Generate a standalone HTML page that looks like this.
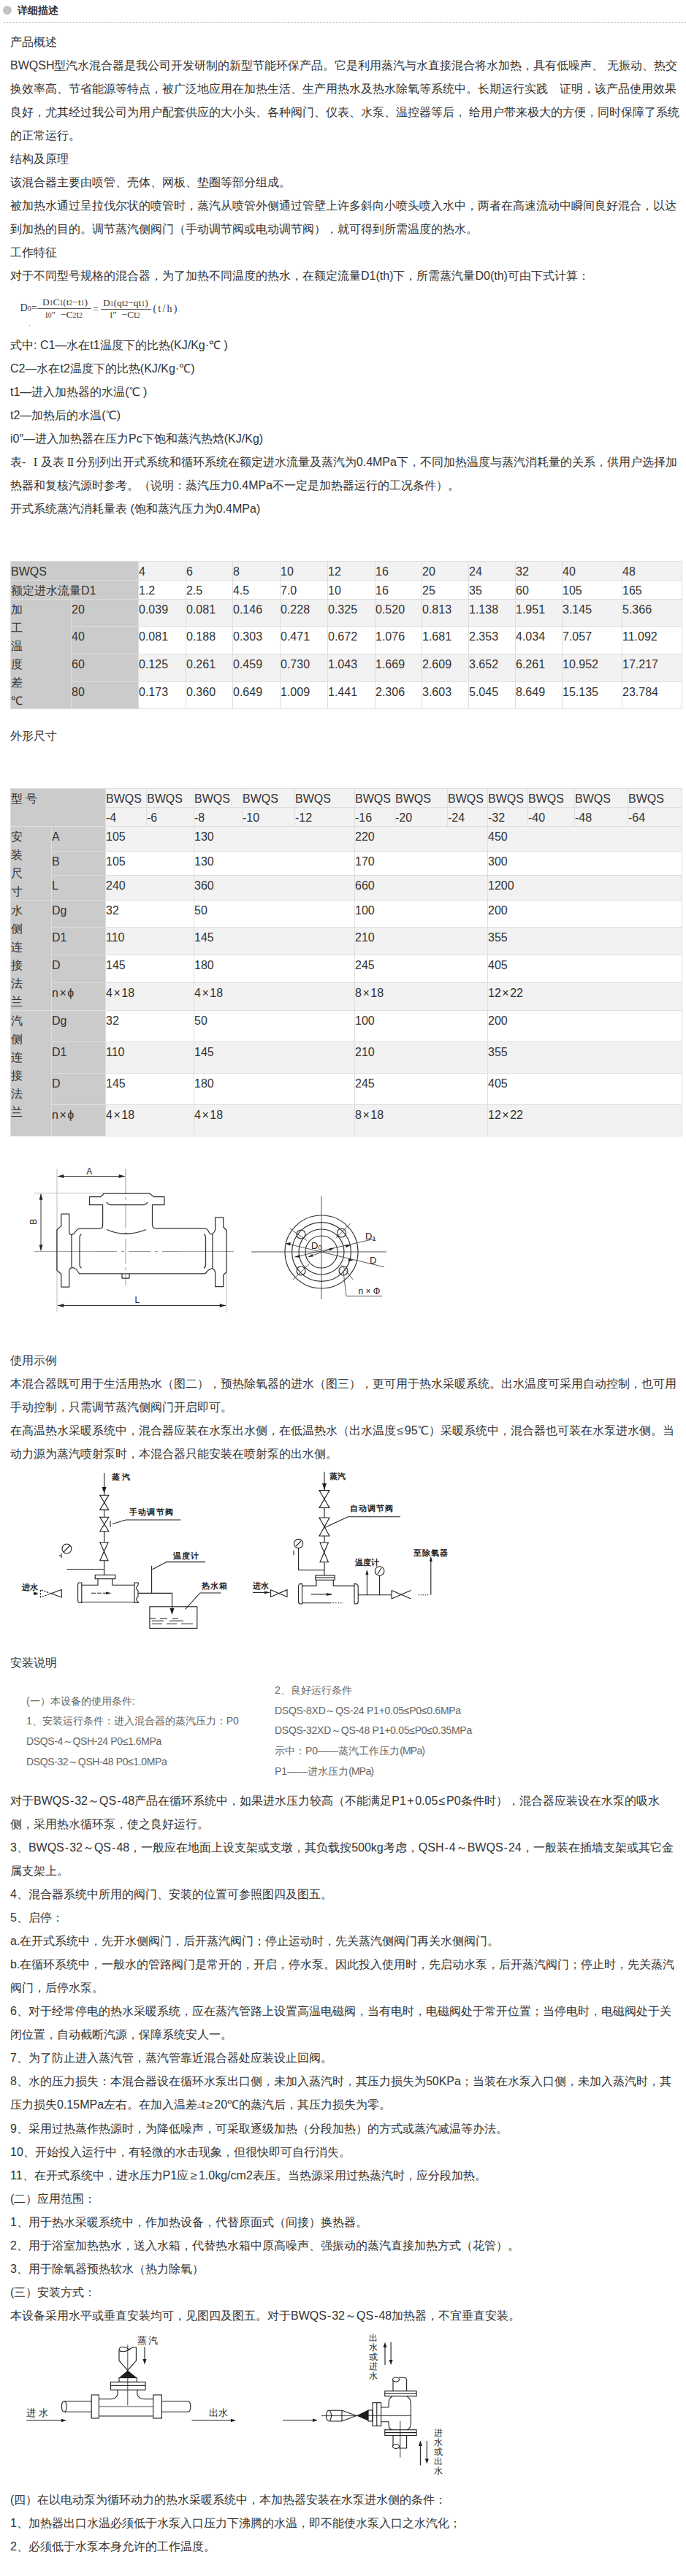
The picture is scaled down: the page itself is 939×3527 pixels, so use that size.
<!DOCTYPE html>
<html><head><meta charset="utf-8">
<style>
html,body{margin:0;padding:0;background:#fff;}
body{width:939px;height:3527px;position:relative;overflow:hidden;font-family:"Liberation Sans",sans-serif;color:#333;font-size:16px;}
.b{position:absolute;left:14px;line-height:32px;white-space:nowrap;}
.hd{position:absolute;left:0;top:0;width:939px;height:31px;}
.dot{position:absolute;left:4px;top:8px;width:12px;height:12px;border-radius:50%;background:#c2c2c2;}
.tt{position:absolute;left:24px;top:4px;font-size:14px;line-height:20px;font-weight:bold;color:#333;}
.dl{position:absolute;left:4px;top:30px;width:935px;height:1px;background:repeating-linear-gradient(90deg,#b5b5b5 0 1px,transparent 1px 2px);}
table{border-collapse:collapse;position:absolute;left:14px;table-layout:fixed;font-size:16px;line-height:25px;}
td{border:1px solid #ddd;padding:0;vertical-align:top;white-space:nowrap;overflow:hidden;}
td.h{background:#cbcbcb;}
tr.g td{background:#f2f2f2;}
tr.g td.h, tr td.h{background:#cbcbcb;}
.sm{position:absolute;font-size:14px;line-height:27.7px;color:#666;white-space:nowrap;}
svg{position:absolute;}
.ls{letter-spacing:-0.38px}.ls2{letter-spacing:-0.26px}.ls3{letter-spacing:-0.8px}
.x{margin:0 1.5px}
.rn{font-family:"Liberation Serif",serif;font-size:16.5px;letter-spacing:-1.5px}
.hy{margin:0 1px}.pl{margin:0 1.5px}
.fw{display:inline-block;width:16px;text-align:center;}
.c{position:absolute;box-sizing:border-box;border-left:1px solid #dedede;border-top:1px solid #dedede;white-space:nowrap;overflow:hidden;font-size:16px;padding-left:0;}
.tb{position:absolute;box-sizing:border-box;border-right:1px solid #dedede;border-bottom:1px solid #dedede;pointer-events:none;}
</style></head><body>
<div class="hd"><div class="dot"></div><div class="tt">详细描述</div><div class="dl"></div></div>

<div class="b" style="top:42px">产品概述<br>BWQSH型汽水混合器是我公司开发研制的新型节能环保产品。它是利用蒸汽与水直接混合将水加热，具有低噪声、 无振动、热交<br>换效率高、节省能源等特点，被广泛地应用在加热生活、生产用热水及热水除氧等系统中。长期运行实践　证明，该产品使用效果<br>良好，尤其经过我公司为用户配套供应的大小头、各种阀门、仪表、水泵、温控器等后， 给用户带来极大的方便，同时保障了系统<br>的正常运行。<br>结构及原理<br>该混合器主要由喷管、壳体、网板、垫圈等部分组成。<br>被加热水通过呈拉伐尔状的喷管时，蒸汽从喷管外侧通过管壁上许多斜向小喷头喷入水中，两者在高速流动中瞬间良好混合，以达<br>到加热的目的。调节蒸汽侧阀门（手动调节阀或电动调节阀），就可得到所需温度的热水。<br>工作特征<br>对于不同型号规格的混合器，为了加热不同温度的热水，在额定流量D1(th)下，所需蒸汽量D0(th)可由下式计算：</div>

<!--FORMULA-->
<div id="fm" style="position:absolute;left:0;top:0;font-family:'Liberation Serif',serif;color:#3a3a3a;white-space:nowrap;">
<span style="position:absolute;left:27.5px;top:414px;font-size:14px;line-height:16px">D<span style="font-size:10px">0</span>=</span>
<div style="position:absolute;left:50.5px;top:422px;width:74.5px;height:1px;background:#555"></div>
<span style="position:absolute;left:58px;top:405.5px;font-size:13.5px;line-height:16px">D<span style="font-size:9.5px">1</span>C<span style="font-size:9.5px">1</span>(t<span style="font-size:9.5px">2</span>−t<span style="font-size:9.5px">1</span>)</span>
<span style="position:absolute;left:62px;top:422.5px;font-size:13.5px;line-height:16px">i<span style="font-size:9.5px">0</span>″&nbsp; −C<span style="font-size:9.5px">2</span>t<span style="font-size:9.5px">2</span></span>
<span style="position:absolute;left:127px;top:415.5px;font-size:14px;line-height:16px">=</span>
<div style="position:absolute;left:138px;top:422.5px;width:68.5px;height:1px;background:#555"></div>
<span style="position:absolute;left:141px;top:406.5px;font-size:13.5px;line-height:16px">D<span style="font-size:9.5px">1</span>(qt<span style="font-size:9.5px">2</span>−qt<span style="font-size:9.5px">1</span>)</span>
<span style="position:absolute;left:150.5px;top:422.5px;font-size:13.5px;line-height:16px">i″&nbsp; −Ct<span style="font-size:9.5px">2</span></span>
<span style="position:absolute;left:209.5px;top:414.5px;font-size:14px;line-height:16px;letter-spacing:2.2px">(t/h)</span>
<div style="position:absolute;left:39.5px;top:445px;width:1.2px;height:1.2px;background:#888"></div>
</div>
<!--/FORMULA-->

<div class="b" style="top:457px">式中: C1—水在t1温度下的比热(KJ/Kg·℃ )<br>C2—水在t2温度下的比热(KJ/Kg·℃)<br>t1—进入加热器的水温(℃ )<br>t2—加热后的水温(℃)<br>i0″—进入加热器在压力Pc下饱和蒸汽热焓(KJ/Kg)<br>表- <span class="fw rn">I</span>及表<span class="fw rn">II</span>分别列出开式系统和循环系统在额定进水流量及蒸汽为0.4MPa下，不同加热温度与蒸汽消耗量的关系，供用户选择加<br>热器和复核汽源时参考。（说明：蒸汽压力0.4MPa不一定是加热器运行的工况条件）。<br>开式系统蒸汽消耗量表 (饱和蒸汽压力为0.4MPa)</div>

<!--TABLE1-->
<div class="c" style="left:14px;top:768px;width:175px;height:26px;background:#cbcbcb;padding-top:1px;line-height:25px">BWQS</div>
<div class="c" style="left:14px;top:794px;width:175px;height:26px;background:#cbcbcb;padding-top:1px;line-height:25px">额定进水流量D1</div>
<div class="c" style="left:189px;top:768px;width:65px;height:26px;background:#f2f2f2;padding-top:1px;line-height:25px">4</div>
<div class="c" style="left:254px;top:768px;width:64px;height:26px;background:#f2f2f2;padding-top:1px;line-height:25px">6</div>
<div class="c" style="left:318px;top:768px;width:65px;height:26px;background:#f2f2f2;padding-top:1px;line-height:25px">8</div>
<div class="c" style="left:383px;top:768px;width:65px;height:26px;background:#f2f2f2;padding-top:1px;line-height:25px">10</div>
<div class="c" style="left:448px;top:768px;width:65px;height:26px;background:#f2f2f2;padding-top:1px;line-height:25px">12</div>
<div class="c" style="left:513px;top:768px;width:64px;height:26px;background:#f2f2f2;padding-top:1px;line-height:25px">16</div>
<div class="c" style="left:577px;top:768px;width:64px;height:26px;background:#f2f2f2;padding-top:1px;line-height:25px">20</div>
<div class="c" style="left:641px;top:768px;width:64px;height:26px;background:#f2f2f2;padding-top:1px;line-height:25px">24</div>
<div class="c" style="left:705px;top:768px;width:64px;height:26px;background:#f2f2f2;padding-top:1px;line-height:25px">32</div>
<div class="c" style="left:769px;top:768px;width:82px;height:26px;background:#f2f2f2;padding-top:1px;line-height:25px">40</div>
<div class="c" style="left:851px;top:768px;width:83px;height:26px;background:#f2f2f2;padding-top:1px;line-height:25px">48</div>
<div class="c" style="left:189px;top:794px;width:65px;height:26px;background:#ffffff;padding-top:1px;line-height:25px">1.2</div>
<div class="c" style="left:254px;top:794px;width:64px;height:26px;background:#ffffff;padding-top:1px;line-height:25px">2.5</div>
<div class="c" style="left:318px;top:794px;width:65px;height:26px;background:#ffffff;padding-top:1px;line-height:25px">4.5</div>
<div class="c" style="left:383px;top:794px;width:65px;height:26px;background:#ffffff;padding-top:1px;line-height:25px">7.0</div>
<div class="c" style="left:448px;top:794px;width:65px;height:26px;background:#ffffff;padding-top:1px;line-height:25px">10</div>
<div class="c" style="left:513px;top:794px;width:64px;height:26px;background:#ffffff;padding-top:1px;line-height:25px">16</div>
<div class="c" style="left:577px;top:794px;width:64px;height:26px;background:#ffffff;padding-top:1px;line-height:25px">25</div>
<div class="c" style="left:641px;top:794px;width:64px;height:26px;background:#ffffff;padding-top:1px;line-height:25px">35</div>
<div class="c" style="left:705px;top:794px;width:64px;height:26px;background:#ffffff;padding-top:1px;line-height:25px">60</div>
<div class="c" style="left:769px;top:794px;width:82px;height:26px;background:#ffffff;padding-top:1px;line-height:25px">105</div>
<div class="c" style="left:851px;top:794px;width:83px;height:26px;background:#ffffff;padding-top:1px;line-height:25px">165</div>
<div class="c" style="left:14px;top:820px;width:83px;height:151px;background:#cbcbcb;padding-top:1px;line-height:25px">加<br>工<br>温<br>度<br>差<br>℃</div>
<div class="c" style="left:97px;top:820px;width:92px;height:37px;background:#cbcbcb;padding-top:1px;line-height:25px">20</div>
<div class="c" style="left:189px;top:820px;width:65px;height:37px;background:#f2f2f2;padding-top:1px;line-height:25px">0.039</div>
<div class="c" style="left:254px;top:820px;width:64px;height:37px;background:#f2f2f2;padding-top:1px;line-height:25px">0.081</div>
<div class="c" style="left:318px;top:820px;width:65px;height:37px;background:#f2f2f2;padding-top:1px;line-height:25px">0.146</div>
<div class="c" style="left:383px;top:820px;width:65px;height:37px;background:#f2f2f2;padding-top:1px;line-height:25px">0.228</div>
<div class="c" style="left:448px;top:820px;width:65px;height:37px;background:#f2f2f2;padding-top:1px;line-height:25px">0.325</div>
<div class="c" style="left:513px;top:820px;width:64px;height:37px;background:#f2f2f2;padding-top:1px;line-height:25px">0.520</div>
<div class="c" style="left:577px;top:820px;width:64px;height:37px;background:#f2f2f2;padding-top:1px;line-height:25px">0.813</div>
<div class="c" style="left:641px;top:820px;width:64px;height:37px;background:#f2f2f2;padding-top:1px;line-height:25px">1.138</div>
<div class="c" style="left:705px;top:820px;width:64px;height:37px;background:#f2f2f2;padding-top:1px;line-height:25px">1.951</div>
<div class="c" style="left:769px;top:820px;width:82px;height:37px;background:#f2f2f2;padding-top:1px;line-height:25px">3.145</div>
<div class="c" style="left:851px;top:820px;width:83px;height:37px;background:#f2f2f2;padding-top:1px;line-height:25px">5.366</div>
<div class="c" style="left:97px;top:857px;width:92px;height:38px;background:#cbcbcb;padding-top:1px;line-height:25px">40</div>
<div class="c" style="left:189px;top:857px;width:65px;height:38px;background:#ffffff;padding-top:1px;line-height:25px">0.081</div>
<div class="c" style="left:254px;top:857px;width:64px;height:38px;background:#ffffff;padding-top:1px;line-height:25px">0.188</div>
<div class="c" style="left:318px;top:857px;width:65px;height:38px;background:#ffffff;padding-top:1px;line-height:25px">0.303</div>
<div class="c" style="left:383px;top:857px;width:65px;height:38px;background:#ffffff;padding-top:1px;line-height:25px">0.471</div>
<div class="c" style="left:448px;top:857px;width:65px;height:38px;background:#ffffff;padding-top:1px;line-height:25px">0.672</div>
<div class="c" style="left:513px;top:857px;width:64px;height:38px;background:#ffffff;padding-top:1px;line-height:25px">1.076</div>
<div class="c" style="left:577px;top:857px;width:64px;height:38px;background:#ffffff;padding-top:1px;line-height:25px">1.681</div>
<div class="c" style="left:641px;top:857px;width:64px;height:38px;background:#ffffff;padding-top:1px;line-height:25px">2.353</div>
<div class="c" style="left:705px;top:857px;width:64px;height:38px;background:#ffffff;padding-top:1px;line-height:25px">4.034</div>
<div class="c" style="left:769px;top:857px;width:82px;height:38px;background:#ffffff;padding-top:1px;line-height:25px">7.057</div>
<div class="c" style="left:851px;top:857px;width:83px;height:38px;background:#ffffff;padding-top:1px;line-height:25px">11.092</div>
<div class="c" style="left:97px;top:895px;width:92px;height:38px;background:#cbcbcb;padding-top:1px;line-height:25px">60</div>
<div class="c" style="left:189px;top:895px;width:65px;height:38px;background:#f2f2f2;padding-top:1px;line-height:25px">0.125</div>
<div class="c" style="left:254px;top:895px;width:64px;height:38px;background:#f2f2f2;padding-top:1px;line-height:25px">0.261</div>
<div class="c" style="left:318px;top:895px;width:65px;height:38px;background:#f2f2f2;padding-top:1px;line-height:25px">0.459</div>
<div class="c" style="left:383px;top:895px;width:65px;height:38px;background:#f2f2f2;padding-top:1px;line-height:25px">0.730</div>
<div class="c" style="left:448px;top:895px;width:65px;height:38px;background:#f2f2f2;padding-top:1px;line-height:25px">1.043</div>
<div class="c" style="left:513px;top:895px;width:64px;height:38px;background:#f2f2f2;padding-top:1px;line-height:25px">1.669</div>
<div class="c" style="left:577px;top:895px;width:64px;height:38px;background:#f2f2f2;padding-top:1px;line-height:25px">2.609</div>
<div class="c" style="left:641px;top:895px;width:64px;height:38px;background:#f2f2f2;padding-top:1px;line-height:25px">3.652</div>
<div class="c" style="left:705px;top:895px;width:64px;height:38px;background:#f2f2f2;padding-top:1px;line-height:25px">6.261</div>
<div class="c" style="left:769px;top:895px;width:82px;height:38px;background:#f2f2f2;padding-top:1px;line-height:25px">10.952</div>
<div class="c" style="left:851px;top:895px;width:83px;height:38px;background:#f2f2f2;padding-top:1px;line-height:25px">17.217</div>
<div class="c" style="left:97px;top:933px;width:92px;height:38px;background:#cbcbcb;padding-top:1px;line-height:25px">80</div>
<div class="c" style="left:189px;top:933px;width:65px;height:38px;background:#ffffff;padding-top:1px;line-height:25px">0.173</div>
<div class="c" style="left:254px;top:933px;width:64px;height:38px;background:#ffffff;padding-top:1px;line-height:25px">0.360</div>
<div class="c" style="left:318px;top:933px;width:65px;height:38px;background:#ffffff;padding-top:1px;line-height:25px">0.649</div>
<div class="c" style="left:383px;top:933px;width:65px;height:38px;background:#ffffff;padding-top:1px;line-height:25px">1.009</div>
<div class="c" style="left:448px;top:933px;width:65px;height:38px;background:#ffffff;padding-top:1px;line-height:25px">1.441</div>
<div class="c" style="left:513px;top:933px;width:64px;height:38px;background:#ffffff;padding-top:1px;line-height:25px">2.306</div>
<div class="c" style="left:577px;top:933px;width:64px;height:38px;background:#ffffff;padding-top:1px;line-height:25px">3.603</div>
<div class="c" style="left:641px;top:933px;width:64px;height:38px;background:#ffffff;padding-top:1px;line-height:25px">5.045</div>
<div class="c" style="left:705px;top:933px;width:64px;height:38px;background:#ffffff;padding-top:1px;line-height:25px">8.649</div>
<div class="c" style="left:769px;top:933px;width:82px;height:38px;background:#ffffff;padding-top:1px;line-height:25px">15.135</div>
<div class="c" style="left:851px;top:933px;width:83px;height:38px;background:#ffffff;padding-top:1px;line-height:25px">23.784</div>
<div class="tb" style="left:14px;top:768px;width:920px;height:203px"></div>
<!--/TABLE1-->

<div class="b" style="top:992px">外形尺寸</div>

<!--TABLE2-->
<div class="c" style="left:14px;top:1079px;width:130px;height:52px;background:#cbcbcb;padding-top:1px;line-height:25px">型 号</div>
<div class="c" style="left:144px;top:1079px;width:56px;height:26px;background:#f2f2f2;padding-top:1px;line-height:25px">BWQS</div>
<div class="c" style="left:144px;top:1105px;width:56px;height:26px;background:#f2f2f2;padding-top:1px;line-height:25px">-4</div>
<div class="c" style="left:200px;top:1079px;width:65px;height:26px;background:#f2f2f2;padding-top:1px;line-height:25px">BWQS</div>
<div class="c" style="left:200px;top:1105px;width:65px;height:26px;background:#f2f2f2;padding-top:1px;line-height:25px">-6</div>
<div class="c" style="left:265px;top:1079px;width:66px;height:26px;background:#f2f2f2;padding-top:1px;line-height:25px">BWQS</div>
<div class="c" style="left:265px;top:1105px;width:66px;height:26px;background:#f2f2f2;padding-top:1px;line-height:25px">-8</div>
<div class="c" style="left:331px;top:1079px;width:72px;height:26px;background:#f2f2f2;padding-top:1px;line-height:25px">BWQS</div>
<div class="c" style="left:331px;top:1105px;width:72px;height:26px;background:#f2f2f2;padding-top:1px;line-height:25px">-10</div>
<div class="c" style="left:403px;top:1079px;width:82px;height:26px;background:#f2f2f2;padding-top:1px;line-height:25px">BWQS</div>
<div class="c" style="left:403px;top:1105px;width:82px;height:26px;background:#f2f2f2;padding-top:1px;line-height:25px">-12</div>
<div class="c" style="left:485px;top:1079px;width:55px;height:26px;background:#f2f2f2;padding-top:1px;line-height:25px">BWQS</div>
<div class="c" style="left:485px;top:1105px;width:55px;height:26px;background:#f2f2f2;padding-top:1px;line-height:25px">-16</div>
<div class="c" style="left:540px;top:1079px;width:72px;height:26px;background:#f2f2f2;padding-top:1px;line-height:25px">BWQS</div>
<div class="c" style="left:540px;top:1105px;width:72px;height:26px;background:#f2f2f2;padding-top:1px;line-height:25px">-20</div>
<div class="c" style="left:612px;top:1079px;width:55px;height:26px;background:#f2f2f2;padding-top:1px;line-height:25px">BWQS</div>
<div class="c" style="left:612px;top:1105px;width:55px;height:26px;background:#f2f2f2;padding-top:1px;line-height:25px">-24</div>
<div class="c" style="left:667px;top:1079px;width:55px;height:26px;background:#f2f2f2;padding-top:1px;line-height:25px">BWQS</div>
<div class="c" style="left:667px;top:1105px;width:55px;height:26px;background:#f2f2f2;padding-top:1px;line-height:25px">-32</div>
<div class="c" style="left:722px;top:1079px;width:64px;height:26px;background:#f2f2f2;padding-top:1px;line-height:25px">BWQS</div>
<div class="c" style="left:722px;top:1105px;width:64px;height:26px;background:#f2f2f2;padding-top:1px;line-height:25px">-40</div>
<div class="c" style="left:786px;top:1079px;width:73px;height:26px;background:#f2f2f2;padding-top:1px;line-height:25px">BWQS</div>
<div class="c" style="left:786px;top:1105px;width:73px;height:26px;background:#f2f2f2;padding-top:1px;line-height:25px">-48</div>
<div class="c" style="left:859px;top:1079px;width:75px;height:26px;background:#f2f2f2;padding-top:1px;line-height:25px">BWQS</div>
<div class="c" style="left:859px;top:1105px;width:75px;height:26px;background:#f2f2f2;padding-top:1px;line-height:25px">-64</div>
<div class="c" style="left:14px;top:1131px;width:56px;height:101px;background:#cbcbcb;padding-top:1px;line-height:25px">安<br>装<br>尺<br>寸</div>
<div class="c" style="left:14px;top:1232px;width:56px;height:151px;background:#cbcbcb;padding-top:1px;line-height:25px">水<br>侧<br>连<br>接<br>法<br>兰</div>
<div class="c" style="left:14px;top:1383px;width:56px;height:173px;background:#cbcbcb;padding-top:1px;line-height:25px">汽<br>侧<br>连<br>接<br>法<br>兰</div>
<div class="c" style="left:70px;top:1131px;width:74px;height:34px;background:#cbcbcb;padding-top:1px;line-height:25px">A</div>
<div class="c" style="left:144px;top:1131px;width:121px;height:34px;background:#f2f2f2;padding-top:1px;line-height:25px">105</div>
<div class="c" style="left:265px;top:1131px;width:220px;height:34px;background:#f2f2f2;padding-top:1px;line-height:25px">130</div>
<div class="c" style="left:485px;top:1131px;width:182px;height:34px;background:#f2f2f2;padding-top:1px;line-height:25px">220</div>
<div class="c" style="left:667px;top:1131px;width:267px;height:34px;background:#f2f2f2;padding-top:1px;line-height:25px">450</div>
<div class="c" style="left:70px;top:1165px;width:74px;height:33px;background:#cbcbcb;padding-top:1px;line-height:25px">B</div>
<div class="c" style="left:144px;top:1165px;width:121px;height:33px;background:#ffffff;padding-top:1px;line-height:25px">105</div>
<div class="c" style="left:265px;top:1165px;width:220px;height:33px;background:#ffffff;padding-top:1px;line-height:25px">130</div>
<div class="c" style="left:485px;top:1165px;width:182px;height:33px;background:#ffffff;padding-top:1px;line-height:25px">170</div>
<div class="c" style="left:667px;top:1165px;width:267px;height:33px;background:#ffffff;padding-top:1px;line-height:25px">300</div>
<div class="c" style="left:70px;top:1198px;width:74px;height:34px;background:#cbcbcb;padding-top:1px;line-height:25px">L</div>
<div class="c" style="left:144px;top:1198px;width:121px;height:34px;background:#f2f2f2;padding-top:1px;line-height:25px">240</div>
<div class="c" style="left:265px;top:1198px;width:220px;height:34px;background:#f2f2f2;padding-top:1px;line-height:25px">360</div>
<div class="c" style="left:485px;top:1198px;width:182px;height:34px;background:#f2f2f2;padding-top:1px;line-height:25px">660</div>
<div class="c" style="left:667px;top:1198px;width:267px;height:34px;background:#f2f2f2;padding-top:1px;line-height:25px">1200</div>
<div class="c" style="left:70px;top:1232px;width:74px;height:37px;background:#cbcbcb;padding-top:1px;line-height:25px">Dg</div>
<div class="c" style="left:144px;top:1232px;width:121px;height:37px;background:#ffffff;padding-top:1px;line-height:25px">32</div>
<div class="c" style="left:265px;top:1232px;width:220px;height:37px;background:#ffffff;padding-top:1px;line-height:25px">50</div>
<div class="c" style="left:485px;top:1232px;width:182px;height:37px;background:#ffffff;padding-top:1px;line-height:25px">100</div>
<div class="c" style="left:667px;top:1232px;width:267px;height:37px;background:#ffffff;padding-top:1px;line-height:25px">200</div>
<div class="c" style="left:70px;top:1269px;width:74px;height:38px;background:#cbcbcb;padding-top:1px;line-height:25px">D1</div>
<div class="c" style="left:144px;top:1269px;width:121px;height:38px;background:#f2f2f2;padding-top:1px;line-height:25px">110</div>
<div class="c" style="left:265px;top:1269px;width:220px;height:38px;background:#f2f2f2;padding-top:1px;line-height:25px">145</div>
<div class="c" style="left:485px;top:1269px;width:182px;height:38px;background:#f2f2f2;padding-top:1px;line-height:25px">210</div>
<div class="c" style="left:667px;top:1269px;width:267px;height:38px;background:#f2f2f2;padding-top:1px;line-height:25px">355</div>
<div class="c" style="left:70px;top:1307px;width:74px;height:38px;background:#cbcbcb;padding-top:1px;line-height:25px">D</div>
<div class="c" style="left:144px;top:1307px;width:121px;height:38px;background:#ffffff;padding-top:1px;line-height:25px">145</div>
<div class="c" style="left:265px;top:1307px;width:220px;height:38px;background:#ffffff;padding-top:1px;line-height:25px">180</div>
<div class="c" style="left:485px;top:1307px;width:182px;height:38px;background:#ffffff;padding-top:1px;line-height:25px">245</div>
<div class="c" style="left:667px;top:1307px;width:267px;height:38px;background:#ffffff;padding-top:1px;line-height:25px">405</div>
<div class="c" style="left:70px;top:1345px;width:74px;height:38px;background:#cbcbcb;padding-top:1px;line-height:25px">n<span class="x">×</span>ϕ</div>
<div class="c" style="left:144px;top:1345px;width:121px;height:38px;background:#f2f2f2;padding-top:1px;line-height:25px">4<span class="x">×</span>18</div>
<div class="c" style="left:265px;top:1345px;width:220px;height:38px;background:#f2f2f2;padding-top:1px;line-height:25px">4<span class="x">×</span>18</div>
<div class="c" style="left:485px;top:1345px;width:182px;height:38px;background:#f2f2f2;padding-top:1px;line-height:25px">8<span class="x">×</span>18</div>
<div class="c" style="left:667px;top:1345px;width:267px;height:38px;background:#f2f2f2;padding-top:1px;line-height:25px">12<span class="x">×</span>22</div>
<div class="c" style="left:70px;top:1383px;width:74px;height:43px;background:#cbcbcb;padding-top:1px;line-height:25px">Dg</div>
<div class="c" style="left:144px;top:1383px;width:121px;height:43px;background:#ffffff;padding-top:1px;line-height:25px">32</div>
<div class="c" style="left:265px;top:1383px;width:220px;height:43px;background:#ffffff;padding-top:1px;line-height:25px">50</div>
<div class="c" style="left:485px;top:1383px;width:182px;height:43px;background:#ffffff;padding-top:1px;line-height:25px">100</div>
<div class="c" style="left:667px;top:1383px;width:267px;height:43px;background:#ffffff;padding-top:1px;line-height:25px">200</div>
<div class="c" style="left:70px;top:1426px;width:74px;height:43px;background:#cbcbcb;padding-top:1px;line-height:25px">D1</div>
<div class="c" style="left:144px;top:1426px;width:121px;height:43px;background:#f2f2f2;padding-top:1px;line-height:25px">110</div>
<div class="c" style="left:265px;top:1426px;width:220px;height:43px;background:#f2f2f2;padding-top:1px;line-height:25px">145</div>
<div class="c" style="left:485px;top:1426px;width:182px;height:43px;background:#f2f2f2;padding-top:1px;line-height:25px">210</div>
<div class="c" style="left:667px;top:1426px;width:267px;height:43px;background:#f2f2f2;padding-top:1px;line-height:25px">355</div>
<div class="c" style="left:70px;top:1469px;width:74px;height:43px;background:#cbcbcb;padding-top:1px;line-height:25px">D</div>
<div class="c" style="left:144px;top:1469px;width:121px;height:43px;background:#ffffff;padding-top:1px;line-height:25px">145</div>
<div class="c" style="left:265px;top:1469px;width:220px;height:43px;background:#ffffff;padding-top:1px;line-height:25px">180</div>
<div class="c" style="left:485px;top:1469px;width:182px;height:43px;background:#ffffff;padding-top:1px;line-height:25px">245</div>
<div class="c" style="left:667px;top:1469px;width:267px;height:43px;background:#ffffff;padding-top:1px;line-height:25px">405</div>
<div class="c" style="left:70px;top:1512px;width:74px;height:44px;background:#cbcbcb;padding-top:1px;line-height:25px">n<span class="x">×</span>ϕ</div>
<div class="c" style="left:144px;top:1512px;width:121px;height:44px;background:#f2f2f2;padding-top:1px;line-height:25px">4<span class="x">×</span>18</div>
<div class="c" style="left:265px;top:1512px;width:220px;height:44px;background:#f2f2f2;padding-top:1px;line-height:25px">4<span class="x">×</span>18</div>
<div class="c" style="left:485px;top:1512px;width:182px;height:44px;background:#f2f2f2;padding-top:1px;line-height:25px">8<span class="x">×</span>18</div>
<div class="c" style="left:667px;top:1512px;width:267px;height:44px;background:#f2f2f2;padding-top:1px;line-height:25px">12<span class="x">×</span>22</div>
<div class="tb" style="left:14px;top:1079px;width:920px;height:477px"></div>
<!--/TABLE2-->

<!--FIG1-->
<svg style="left:0;top:1580px" width="939" height="230" viewBox="0 1580 939 230">
<defs>
<marker id="ar" viewBox="0 0 10 6" refX="10" refY="3" markerWidth="9" markerHeight="5" orient="auto-start-reverse" markerUnits="userSpaceOnUse"><path d="M0,0 L10,3 L0,6 z" fill="#222"/></marker>
</defs>
<g fill="none" stroke="#bdbdbd" stroke-width="1">
<line x1="78" y1="1600" x2="78" y2="1796"/>
<line x1="310" y1="1741" x2="310" y2="1797"/>
<line x1="47" y1="1633.5" x2="142" y2="1633.5"/>
<line x1="47" y1="1713.5" x2="130" y2="1713.5" stroke="#a5a5a5"/>
<line x1="247" y1="1713.5" x2="320" y2="1713.5" stroke="#a5a5a5"/>
<line x1="130" y1="1713.5" x2="247" y2="1713.5" stroke-dasharray="30 6 4 6" stroke="#999"/>
<line x1="172" y1="1600" x2="172" y2="1760" stroke-dasharray="34 5 4 5" stroke="#999"/>
</g>
<g fill="none" stroke="#333" stroke-width="1">
<line x1="79" y1="1610.5" x2="171" y2="1610.5" marker-start="url(#ar)" marker-end="url(#ar)"/>
<line x1="56" y1="1634.5" x2="56" y2="1712.5" marker-start="url(#ar)" marker-end="url(#ar)"/>
<line x1="79" y1="1787.5" x2="309" y2="1787.5" marker-start="url(#ar)" marker-end="url(#ar)"/>
</g>
<g fill="none" stroke="#333" stroke-width="1.25" stroke-linejoin="round">
<!-- outer outline -->
<path d="M140.6,1649.5 L122.5,1649.5 L122.5,1638.5 L138,1638.5 L142.5,1634 L204.5,1634 L210.5,1638.5 L225,1638.5 L225,1649.5 L208.5,1649.5 L208.5,1677 Q208.5,1681.8 213.5,1681.8 L280,1681.8 Q284,1682 286,1687 Q288,1691 291,1689 Q294,1687 294.6,1684 L294.6,1666.8 L305.7,1666.8 L305.7,1680 L310,1684.5 L310,1741.5 L305.7,1746 L305.7,1761.7 L294.6,1761.7 L294.6,1742 Q293,1736 289,1737 Q284,1739 281,1743.8 L108.5,1743.8 Q104,1736 100,1735.5 Q96,1735.5 94.7,1738.6 L94.7,1762 L83.8,1762 L83.8,1744.5 L77.9,1739.2 L77.9,1683.8 L83.8,1678.6 L83.8,1662.2 L94.7,1662.2 L94.7,1687.9 Q96,1691.5 99,1690.5 Q102,1689 104,1685.5 Q106,1682 110,1682 L136.5,1682 Q140.6,1682 140.6,1678 Z"/>
<!-- neck lines -->
<line x1="98" y1="1690.8" x2="98" y2="1735"/>
<line x1="291" y1="1689" x2="291" y2="1737"/>
<!-- inner brackets -->
<path d="M111.4,1689.6 Q109,1691 109,1694 L109,1732 Q109,1735 111.4,1736.3"/>
<path d="M279,1689.6 Q281.5,1691 281.5,1694 L281.5,1732 Q281.5,1735 279,1736.3"/>
<!-- branch inner -->
<path d="M146,1646 Q148,1649.5 151,1649.5 L197,1649.5 Q200,1649.5 202,1646"/>
<path d="M146,1683.5 Q172,1695 200,1683.5"/>
<!-- nub -->
<path d="M167,1743.8 L167,1750 L177,1750 L177,1743.8"/>
</g>
<g font-family="Liberation Sans, sans-serif" font-size="12" fill="#222">
<text x="122.3" y="1608" text-anchor="middle">A</text>
<text x="187.8" y="1784" text-anchor="middle">L</text>
<text x="50" y="1672.8" text-anchor="middle" transform="rotate(-90 50 1672.8)">B</text>
</g>
<!-- flange view -->
<g fill="none" stroke="#333" stroke-width="1.2">
<circle cx="440" cy="1714" r="50"/>
<circle cx="440" cy="1714" r="40.4"/>
<circle cx="440" cy="1714" r="31"/>
<circle cx="440" cy="1714" r="22"/>
<circle cx="412" cy="1690" r="6"/>
<circle cx="467.5" cy="1688" r="6"/>
<circle cx="412" cy="1740" r="6"/>
<circle cx="470" cy="1740" r="6"/>
</g>
<g fill="none" stroke="#444" stroke-width="0.9">
<line x1="440" y1="1638" x2="440" y2="1779"/>
<line x1="344" y1="1714" x2="529" y2="1714"/>
<line x1="396.6" y1="1682" x2="420.2" y2="1698.7"/>
<line x1="459.6" y1="1695" x2="479.7" y2="1675"/>
<line x1="401" y1="1752" x2="422.9" y2="1731"/>
<line x1="467.5" y1="1732" x2="483.2" y2="1752"/>
<line x1="392" y1="1702.6" x2="526" y2="1734.8" marker-start="url(#ar2)"/>
<line x1="403.5" y1="1721" x2="513.7" y2="1696"/>
<line x1="421.8" y1="1721" x2="457" y2="1708.8"/>
<polyline points="470,1741 474,1774.6 523,1774.6"/>
</g>
<g fill="#222">
<path d="M391,1702.4 L398,1701 L397,1705.5 Z"/>
<path d="M483.5,1725.7 L476.5,1727 L477.5,1722.5 Z"/>
<path d="M403.5,1721 L410,1718 L410.8,1722 Z"/>
<path d="M480,1705 L473.5,1708.3 L472.7,1704.3 Z"/>
<path d="M421.8,1721 L427.5,1717 L428.5,1720.5 Z"/>
<path d="M457,1708.8 L451.5,1712.8 L450.5,1709.2 Z"/>
</g>
<g font-family="Liberation Sans, sans-serif" fill="#222">
<text x="426" y="1710" font-size="13">D<tspan font-size="9" dy="1">0</tspan></text>
<text x="500" y="1697" font-size="13">D<tspan font-size="9" dy="2">1</tspan></text>
<text x="506" y="1730" font-size="13">D</text>
<text x="490.5" y="1772" font-size="12">n × Φ</text>
</g>
</svg>
<!--/FIG1-->

<div class="b" style="top:1847px">使用示例<br>本混合器既可用于生活用热水（图二），预热除氧器的进水（图三），更可用于热水采暖系统。出水温度可采用自动控制，也可用<br>手动控制，只需调节蒸汽侧阀门开启即可。<br>在高温热水采暖系统中，混合器应装在水泵出水侧，在低温热水（出水温度<span class="pl">≤</span>95℃）采暖系统中，混合器也可装在水泵进水侧。当<br>动力源为蒸汽喷射泵时，本混合器只能安装在喷射泵的出水侧。</div>

<!--FIG23-->
<svg style="left:0;top:2005px" width="939" height="235" viewBox="0 2005 939 235">
<g fill="none" stroke="#1e1e1e" stroke-width="1.1">
<!-- FIG 2 -->
<line x1="142.6" y1="2017" x2="142.6" y2="2156.4"/>
<path d="M136.7,2047.2 L148.8,2047.2 L136.7,2067.1 L148.8,2067.1 Z" fill="#fff"/>
<path d="M136.7,2077.3 L148.8,2077.3 L136.7,2096.7 L148.8,2096.7 Z" fill="#fff"/>
<path d="M136.8,2111.8 L148,2111.8 L136.8,2136.7 L148,2136.7 Z" fill="#fff"/>
<line x1="151" y1="2082" x2="151" y2="2091"/>
<polyline points="154,2086.5 172.2,2081 247.4,2081"/>
<circle cx="91.4" cy="2120.5" r="6.5"/>
<line x1="87" y1="2125" x2="96" y2="2116"/>
<path d="M84,2127 L84,2133 M81,2130 L84,2130"/>
<line x1="91.4" y1="2148.5" x2="142.6" y2="2148.5"/>
<rect x="130.2" y="2156.4" width="27.6" height="5.3"/>
<path d="M134,2161.7 L134,2170.3 L112,2170.3 M153.8,2161.7 L153.8,2170.3 L184,2170.3 M112,2193.5 L184,2193.5"/>
<path d="M108,2167 Q106.6,2168 106.6,2170 L106.6,2191.5 Q106.6,2194.5 110,2194.5 L111.8,2194.5 L111.8,2167 Z"/>
<path d="M189.2,2167 Q190,2170 187.5,2172 Q185.5,2175 189,2178 L189,2186 Q185.5,2189 187.5,2192 Q190,2194 189.2,2194.5 L184,2194.5 L184,2167 Z"/>
<line x1="125" y1="2181.3" x2="148" y2="2181.3" stroke-dasharray="6 2"/>
<path d="M70,2181.8 L55.4,2176.6 L55.4,2187 Z" stroke-dasharray="2.5 1.5"/><path d="M70,2181.8 L84.3,2176.6 L84.3,2187 Z"/>
<line x1="46" y1="2181.9" x2="52" y2="2181.9"/>
<polyline points="189.2,2181.4 235.5,2181.4 235.5,2206"/>
<line x1="207.6" y1="2181.4" x2="207.6" y2="2143.7"/>
<polyline points="208.6,2148.8 228,2138.6 281,2138.6"/>
<rect x="204.9" y="2199.8" width="64.9" height="29.6"/>
<path d="M205,2216.1 L213,2216.1 M219,2216.1 L229,2216.1 M236,2216.1 L244,2216.1 M208,2219.2 L224,2219.2 M232,2219.2 L251,2219.2 M208,2223.3 L222,2223.3 M228,2223.3 L242,2223.3 M248,2223.3 L264,2223.3" stroke-width="1"/>
<polyline points="253.5,2203.5 273.9,2181 302.4,2181"/>
<!-- FIG 3 -->
<line x1="444" y1="2015" x2="444" y2="2157"/>
<path d="M437,2040.6 L451,2040.6 L437,2064.4 L451,2064.4 Z" fill="#fff"/>
<path d="M437,2078 L451,2078 L437,2103 L451,2103 Z" fill="#fff"/>
<path d="M438,2112 L449.4,2112 L438,2138.8 L449.4,2138.8 Z" fill="#fff"/>
<polyline points="444,2091.7 476.3,2076.8 548,2076.8"/>
<circle cx="408.6" cy="2113.5" r="6.1"/>
<line x1="405" y1="2117" x2="412" y2="2110"/>
<line x1="402" y1="2123" x2="402" y2="2129"/>
<polyline points="408.6,2119.6 408.6,2149.8 444,2149.8"/>
<rect x="431.8" y="2157" width="26.6" height="6.3"/>
<line x1="431.8" y1="2160" x2="458.4" y2="2160"/>
<path d="M433,2163.3 L433,2171.4 L413.5,2171.4 M456.3,2163.3 L456.3,2171.4 L485,2171.4 M413.5,2194.7 L452,2194.7"/>
<path d="M452,2194.7 L470,2194.7" stroke-dasharray="1.5 2"/>
<path d="M410,2168.6 Q408.6,2170 408.6,2172 L408.6,2193 Q408.6,2196 411,2196 L413.5,2196 L413.5,2168.6 Z"/>
<path d="M487,2168.6 Q490.2,2170 490.2,2172 L490.2,2193 Q490.2,2196 487.5,2196 L485,2196 L485,2168.6 Z"/>
<line x1="425.7" y1="2182.9" x2="454" y2="2182.9"/>
<line x1="346" y1="2180.4" x2="369" y2="2180.4"/>
<path d="M370.6,2176.7 L393,2186.5 L393,2176.7 L370.6,2186.5 Z"/>
<line x1="490.2" y1="2183.7" x2="536" y2="2183.7"/>
<line x1="502.4" y1="2151" x2="502.4" y2="2183.7"/>
<circle cx="519.6" cy="2151" r="6.3"/>
<line x1="517" y1="2155" x2="522" y2="2147"/>
<line x1="519.6" y1="2157.3" x2="519.6" y2="2183.7"/>
<path d="M536,2177.6 L562.4,2189 M536,2189 L562.4,2177.6 M536,2177.6 L536,2189"/>
<line x1="572.7" y1="2183.7" x2="587" y2="2183.7" stroke-dasharray="1.5 1.5"/>
<line x1="589.8" y1="2183.7" x2="589.8" y2="2134"/>
</g>
<g fill="#1e1e1e">
<path d="M139.6,2036 L145.6,2036 L142.6,2045 Z"/>
<path d="M441,2031 L447,2031 L444,2040 Z"/>
<path d="M232.5,2202 L238.5,2202 L235.5,2211 Z"/>
<path d="M145,2179.5 L152.5,2181.3 L145,2183.1 Z"/>
<path d="M447,2180.9 L455,2182.9 L447,2184.9 Z"/>
<path d="M362,2178.5 L369.5,2180.4 L362,2182.3 Z"/>
<path d="M500.4,2156 L504.4,2156 L502.4,2149 Z"/>
<path d="M587.8,2138 L591.8,2138 L589.8,2130.6 Z"/>
<path d="M46,2180.2 L50,2180.2 L50,2183.6 L46,2183.6 Z"/>
</g>
<g font-family="Liberation Sans, sans-serif" font-weight="bold" font-size="11" fill="#1e1e1e">
<text x="152.5" y="2025.5" letter-spacing="3">蒸汽</text>
<text x="177" y="2074" letter-spacing="1.2">手动调节阀</text>
<text x="237" y="2133.5" letter-spacing="1">温度计</text>
<text x="275.5" y="2175" letter-spacing="1">热水箱</text>
<text x="29.5" y="2176.5">进水</text>
<text x="451" y="2025" letter-spacing="0">蒸汽</text>
<text x="478.5" y="2069" letter-spacing="1">自动调节阀</text>
<text x="486" y="2142.5" letter-spacing="0">温度计</text>
<text x="566" y="2129.5" letter-spacing="1">至除氧器</text>
<text x="346" y="2174.5">进水</text>
</g>
</svg>
<!--/FIG23-->

<div class="b" style="top:2261px">安装说明</div>

<div class="sm" style="left:36px;top:2315.5px">(一）本设备的使用条件:<br>1、安装运行条件：进入混合器的蒸汽压力：P0<br><span class="ls">DSQS-4～QSH-24 P0≤1.6MPa</span><br><span class="ls">DSQS-32～QSH-48 P0≤1.0MPa</span></div>
<div class="sm" style="left:376px;top:2301px">2、良好运行条件<br><span class="ls2">DSQS-8XD～QS-24 P1+0.05≤P0≤0.6MPa</span><br><span class="ls2">DSQS-32XD～QS-48 P1+0.05≤P0≤0.35MPa</span><br>示中：P0——蒸汽工作压力<span class="ls3">(MPa)</span><br>P1——进水压力<span class="ls3">(MPa)</span></div>

<div class="b" style="top:2450px">对于BWQS<span class="hy">-</span>32～QS<span class="hy">-</span>48产品在循环系统中，如果进水压力较高（不能满足P1<span class="pl">+</span>0.05<span class="pl">≤</span>P0条件时），混合器应装设在水泵的吸水<br>侧，采用热水循环泵，使之良好运行。<br>3、BWQS<span class="hy">-</span>32～QS<span class="hy">-</span>48，一般应在地面上设支架或支墩，其负载按500kg考虑，QSH<span class="hy">-</span>4～BWQS<span class="hy">-</span>24，一般装在插墙支架或其它金<br>属支架上。<br>4、混合器系统中所用的阀门、安装的位置可参照图四及图五。<br>5、启停：<br>a.在开式系统中，先开水侧阀门，后开蒸汽阀门；停止运动时，先关蒸汽侧阀门再关水侧阀门。<br>b.在循环系统中，一般水的管路阀门是常开的，开启，停水泵。因此投入使用时，先启动水泵，后开蒸汽阀门；停止时，先关蒸汽<br>阀门，后停水泵。<br>6、对于经常停电的热水采暖系统，应在蒸汽管路上设置高温电磁阀，当有电时，电磁阀处于常开位置；当停电时，电磁阀处于关<br>闭位置，自动截断汽源，保障系统安人一。<br>7、为了防止进入蒸汽管，蒸汽管靠近混合器处应装设止回阀。<br>8、水的压力损失：本混合器设在循环水泵出口侧，未加入蒸汽时，其压力损失为50KPa；当装在水泵入口侧，未加入蒸汽时，其<br>压力损失0.15MPa左右。在加入温差<span style="font-size:8px;vertical-align:2px">△</span>t<span style="margin:0 2px">≥</span>20℃的蒸汽后，其压力损失为零。<br>9、采用过热蒸作热源时，为降低噪声，可采取逐级加热（分段加热）的方式或蒸汽减温等办法。<br>10、开始投入运行中，有轻微的水击现象，但很快即可自行消失。<br>11、在开式系统中，进水压力P1应<span class="pl" style="margin:0 2.5px">≥</span>1.0kg/cm2表压。当热源采用过热蒸汽时，应分段加热。<br>(二）应用范围：<br>1、用于热水采暖系统中，作加热设备，代替原面式（间接）换热器。<br>2、用于浴室加热热水，送入水箱，代替热水箱中原高噪声、强振动的蒸汽直接加热方式（花管）。<br>3、用于除氧器预热软水（热力除氧）<br>(三）安装方式：<br>本设备采用水平或垂直安装均可，见图四及图五。对于BWQS<span class="hy">-</span>32～QS<span class="hy">-</span>48加热器，不宜垂直安装。</div>

<!--FIG45-->
<svg style="left:0;top:3185px" width="939" height="222" viewBox="0 3185 939 222">
<g fill="none" stroke="#1e1e1e" stroke-width="1.1">
<!-- FIG 4 -->
<line x1="198" y1="3213.3" x2="198" y2="3232"/>
<path d="M163,3218 L163,3232.3 L174.8,3245.4 L186.4,3232.3 L186.4,3218"/>
<path d="M163,3218 Q163,3213 168,3213.5 Q174,3214 177,3217 Q181,3213 186.4,3214 L186.4,3218"/>
<path d="M163,3218 Q168,3222 177,3217"/>
<rect x="163" y="3255.6" width="24.3" height="5.8"/>
<rect x="151.4" y="3261.4" width="47.6" height="10.8"/>
<line x1="151.4" y1="3266.4" x2="199" y2="3266.4"/>
<path d="M161,3272.2 L161,3279 Q158,3284.8 152,3284.8 L135.4,3284.8 M187.9,3272.2 L187.9,3279 Q191,3284.8 197,3284.8 L209.7,3284.8 M135.4,3308 L209.7,3308"/>
<rect x="125.2" y="3279" width="10.2" height="32"/>
<rect x="209.7" y="3279" width="11.7" height="32"/>
<path d="M125.2,3287.7 L88,3287.7 Q84.4,3287.7 84.4,3295 Q84.4,3302.2 88,3302.2 L125.2,3302.2"/>
<path d="M88,3287.7 Q91,3287.7 91,3295 Q91,3302.2 88,3302.2"/>
<path d="M221.4,3287.7 L257,3287.7 Q260.8,3287.7 260.8,3295 Q260.8,3302.2 257,3302.2 L221.4,3302.2"/>
<line x1="135.4" y1="3295" x2="209.7" y2="3295" stroke-width="0.8"/>
<line x1="174.8" y1="3210.4" x2="174.8" y2="3293.5" stroke-width="0.8"/>
<line x1="36.3" y1="3314" x2="86" y2="3314"/>
<line x1="262.5" y1="3314" x2="318" y2="3314"/>
<!-- FIG 5 -->
<line x1="527" y1="3212" x2="527" y2="3238"/>
<line x1="535.1" y1="3206.8" x2="535.1" y2="3232"/>
<path d="M538,3273.8 L538,3259 M556.6,3273.8 L556.6,3259 Q556.6,3255.2 552,3255.2 L546,3255.2"/>
<ellipse cx="542" cy="3258" rx="4.5" ry="3"/>
<rect x="526.8" y="3273.8" width="43.3" height="7"/>
<line x1="526.8" y1="3277.3" x2="570.1" y2="3277.3"/>
<path d="M537,3281 Q532.1,3284 532.1,3290 L532.1,3296 M532.1,3315.8 L532.1,3320 Q532.1,3326 537,3326.8 M557,3281 Q562.4,3284 562.4,3292 L562.4,3318 Q562.4,3325 557,3326.8"/>
<rect x="510" y="3289.7" width="11.6" height="31.9"/>
<line x1="515.8" y1="3289.7" x2="515.8" y2="3321.6"/>
<path d="M521.6,3296 L532.1,3296 M521.6,3315.8 L532.1,3315.8"/>
<rect x="526.8" y="3326.8" width="43.3" height="7.7"/>
<line x1="526.8" y1="3330.6" x2="570.1" y2="3330.6"/>
<path d="M538,3334.5 L538,3349 M556.6,3334.5 L556.6,3352 L546,3352"/>
<ellipse cx="542" cy="3349.5" rx="4.5" ry="3"/>
<path d="M451,3300.2 L468,3300.2 L487.8,3307.6 L468,3315 L451,3315"/>
<ellipse cx="450" cy="3307.6" rx="3.5" ry="7.4"/>
<line x1="468" y1="3300.2" x2="468" y2="3315"/>
<rect x="504" y="3300" width="6" height="15"/>
<line x1="440" y1="3307.6" x2="562" y2="3307.6" stroke-width="0.8"/>
<line x1="547.8" y1="3314.6" x2="547.8" y2="3364.8" stroke-width="0.9"/>
<line x1="387" y1="3313.7" x2="430" y2="3313.7"/>
<line x1="575.4" y1="3347" x2="575.4" y2="3375.4"/>
<line x1="584.3" y1="3342" x2="584.3" y2="3368"/>
</g>
<g fill="#1e1e1e">
<path d="M195.5,3230 L200.5,3230 L198,3237.5 Z"/>
<path d="M174.8,3245.4 L187.3,3255.6 L163,3255.6 Z"/>
<path d="M84,3311.8 L91,3314 L84,3316.2 Z"/>
<path d="M316,3311.8 L323.2,3314 L316,3316.2 Z"/>
<path d="M487.8,3307.6 L504.1,3299.5 L504.1,3314.6 Z"/>
<path d="M428,3311.5 L435,3313.7 L428,3315.9 Z"/>
<path d="M524.5,3214 L529.5,3214 L527,3206.8 Z"/>
<path d="M532.6,3231 L537.6,3231 L535.1,3238 Z"/>
<path d="M572.9,3349 L577.9,3349 L575.4,3341.6 Z"/>
<path d="M581.8,3366.5 L586.8,3366.5 L584.3,3373.6 Z"/>
</g>
<g font-family="Liberation Sans, sans-serif" font-size="13" fill="#1e1e1e">
<text x="187.5" y="3208.5" letter-spacing="2">蒸汽</text>
<text x="36" y="3307.5" letter-spacing="4">进水</text>
<text x="285.5" y="3307.5" letter-spacing="0">出水</text>
</g>
<g font-family="Liberation Sans, sans-serif" font-size="12" fill="#1e1e1e" text-anchor="middle">
<text x="511.3" y="3205">出</text><text x="511.3" y="3218">水</text><text x="511.3" y="3231">或</text><text x="511.3" y="3244">进</text><text x="511.3" y="3257">水</text>
<text x="600" y="3335">进</text><text x="600" y="3348">水</text><text x="600" y="3361">或</text><text x="600" y="3374">出</text><text x="600" y="3387">水</text>
</g>
</svg>
<!--/FIG45-->

<div class="b" style="top:3407px">(四）在以电动泵为循环动力的热水采暖系统中，本加热器安装在水泵进水侧的条件：<br>1、加热器出口水温必须低于水泵入口压力下沸腾的水温，即不能使水泵入口之水汽化；<br>2、必须低于水泵本身允许的工作温度。</div>

</body></html>
